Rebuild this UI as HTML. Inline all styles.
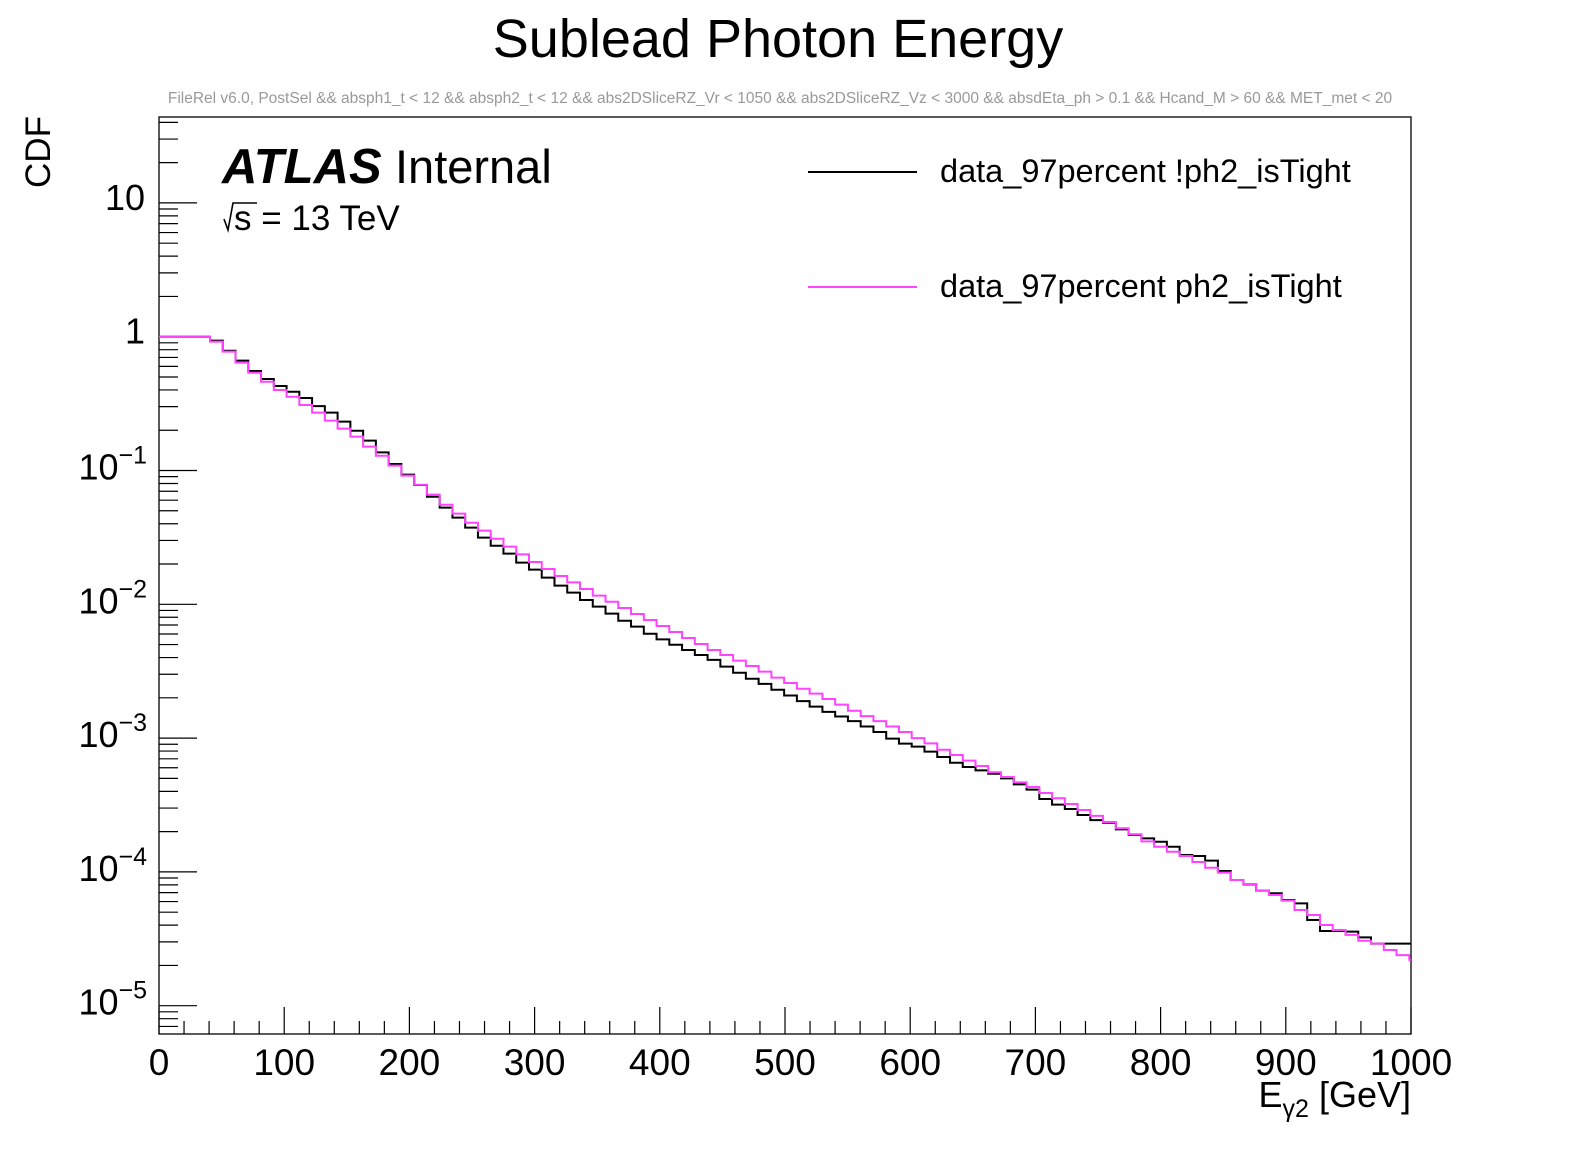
<!DOCTYPE html>
<html><head><meta charset="utf-8"><style>
html,body{margin:0;padding:0;background:#fff;overflow:hidden;}
svg{display:block;font-family:"Liberation Sans",Arial,sans-serif;}
</style></head><body>
<svg id="chart" width="1596" height="1172" viewBox="0 0 1596 1172" xmlns="http://www.w3.org/2000/svg">
<rect width="1596" height="1172" fill="#fff"/>
<text x="778" y="57" font-size="54" text-anchor="middle">Sublead Photon Energy</text>
<text x="780" y="103" font-size="15.5" fill="#999" text-anchor="middle">FileRel v6.0, PostSel &amp;&amp;  absph1_t &lt; 12 &amp;&amp; absph2_t &lt; 12 &amp;&amp; abs2DSliceRZ_Vr &lt; 1050 &amp;&amp; abs2DSliceRZ_Vz &lt; 3000 &amp;&amp; absdEta_ph &gt; 0.1 &amp;&amp; Hcand_M &gt; 60 &amp;&amp; MET_met &lt; 20</text>
<text transform="translate(50,152) rotate(-90)" font-size="35" text-anchor="middle">CDF</text>
<g id="axes"></g>
<g id="series"></g>
<text x="222" y="183" font-size="49" font-weight="bold" font-style="italic">ATLAS</text>
<text x="395" y="183" font-size="47">Internal</text>
<g>
<path d="M224 219 L228 230 L233 203 L257 203" stroke="#000" stroke-width="1.6" fill="none"/>
<text x="234" y="230" font-size="35">s = 13 TeV</text>
</g>
<g>
<line x1="808" y1="172" x2="917" y2="172" stroke="#000" stroke-width="2"/>
<text x="940" y="182" font-size="32.5">data_97percent !ph2_isTight</text>
<line x1="808" y1="287" x2="917" y2="287" stroke="#ff44ff" stroke-width="2"/>
<text x="940" y="297" font-size="32.5">data_97percent ph2_isTight</text>
</g>
<text x="1411" y="1107" font-size="36" text-anchor="end">E<tspan font-size="25" dy="10">γ2</tspan><tspan dy="-10"> [GeV]</tspan></text>
</svg>
<script>
const binWidth = 10.19;
const xTickLabels = ["0","100","200","300","400","500","600","700","800","900","1000"];
const yTickLabels = ["10^-5","10^-4","10^-3","10^-2","10^-1","1","10"];
const cdfNotTight = [1,1,1,1,0.934,0.786,0.662,0.554,0.483,0.428,0.388,0.348,0.303,0.2705,0.2317,0.1984,0.1671,0.1367,0.1118,0.0931,0.0779,0.0637,0.0528,0.0444,0.0374,0.0315,0.0274,0.0239,0.0205,0.01815,0.01581,0.01378,0.01222,0.01077,0.0096,0.00851,0.00754,0.00681,0.00603,0.00547,0.00499,0.00455,0.00418,0.00384,0.00342,0.00308,0.00278,0.00254,0.0023,0.00208,0.00189,0.00172,0.00157,0.00145,0.00134,0.00122,0.00111,0.00099,0.000909,0.000863,0.000792,0.000722,0.000655,0.000608,0.000574,0.000542,0.0005,0.000451,0.000412,0.000351,0.000318,0.000295,0.000266,0.000244,0.000233,0.000208,0.000189,0.000178,0.000168,0.000154,0.0001337,0.0001315,0.0001213,0.0001016,0.000087,0.0000807,0.0000724,0.0000692,0.0000617,0.0000582,0.0000437,0.0000362,0.0000362,0.0000358,0.0000324,0.0000291,0.0000291,0.0000291,0.0000291];
const cdfTight = [1,1,1,1,0.918,0.773,0.64,0.538,0.461,0.3997,0.356,0.309,0.2705,0.2357,0.2054,0.179,0.1507,0.129,0.1087,0.0915,0.0783,0.066,0.0555,0.0476,0.0407,0.0355,0.0309,0.027,0.0236,0.0207,0.01835,0.01627,0.01459,0.01301,0.0116,0.01046,0.00938,0.00846,0.00763,0.00689,0.00621,0.0056,0.00505,0.00455,0.00418,0.00379,0.00346,0.00314,0.00283,0.00258,0.00234,0.00215,0.00196,0.00178,0.0016,0.00146,0.00134,0.00122,0.00111,0.001,0.000914,0.000819,0.000747,0.000678,0.000619,0.000555,0.000512,0.000467,0.000431,0.000389,0.000355,0.000322,0.00029,0.000262,0.000236,0.000212,0.000191,0.000169,0.000154,0.0001416,0.0001315,0.0001186,0.0001075,0.0000987,0.000087,0.0000812,0.0000724,0.0000672,0.000061,0.0000519,0.0000476,0.0000401,0.0000368,0.0000338,0.0000306,0.0000291,0.0000261,0.0000239,0.000022];

const NS = "http://www.w3.org/2000/svg";
const X0 = 159, X1 = 1411, Y0 = 117, Y1 = 1034;
const xMin = 0, xMax = 1000;
const yOne = 336.7, dec = 133.8;
function xs(v){ return X0 + (v - xMin) / (xMax - xMin) * (X1 - X0); }
function ys(v){ return yOne - Math.log10(v) * dec; }
function mk(tag, attrs, parent){
  const e = document.createElementNS(NS, tag);
  for (const k in attrs) e.setAttribute(k, attrs[k]);
  parent.appendChild(e); return e;
}
const axes = document.getElementById('axes');
const frame = mk('rect', {x:X0, y:Y0, width:X1-X0, height:Y1-Y0, fill:'none', stroke:'#000', 'stroke-width':1.3}, axes);


for (let v = 0; v <= 1000; v += 20) {
  const major = v % 100 === 0;
  const t = mk('line', {x1:xs(v), x2:xs(v), y1:Y1, y2:Y1 - (major ? 27 : 13), stroke:'#000', 'stroke-width':1.2}, axes);
  
  
}
xTickLabels.forEach(function(lbl){
  const t = mk('text', {x:xs(parseFloat(lbl)), y:1075, 'font-size':37, 'text-anchor':'middle'}, axes);
  t.textContent = lbl;
  
  
});
const yTop = (yOne - Y0) / dec, yBot = (yOne - Y1) / dec;
for (let e = -6; e <= 2; e++) {
  for (let m = 1; m <= 9; m++) {
    const v = m * Math.pow(10, e);
    const L = Math.log10(v);
    if (L > yTop || L < yBot) continue;
    const t = mk('line', {x1:X0, x2:X0 + (m === 1 ? 38 : 19), y1:ys(v), y2:ys(v), stroke:'#000', 'stroke-width':1.2}, axes);
    
    
  }
}
yTickLabels.forEach(function(lbl){
  let v;
  const t = mk('text', {'font-size':36, 'text-anchor':'end'}, axes);
  if (lbl.indexOf('^') >= 0) {
    const ex = parseInt(lbl.split('^')[1]);
    v = Math.pow(10, ex);
    t.setAttribute('x', 147); t.setAttribute('y', ys(v) + 9);
    const a = mk('tspan', {}, t); a.textContent = '10';
    const b = mk('tspan', {dy:-16, 'font-size':25}, t); b.textContent = '\u2212' + Math.abs(ex);
  } else {
    v = parseFloat(lbl);
    t.setAttribute('x', 145); t.setAttribute('y', ys(v) + 7);
    t.textContent = lbl;
  }
  
  
});
const sg = document.getElementById('series');
function drawHist(vals, color, name){
  let d = '';
  vals.forEach(function(v, i){
    const xa = xs(i * binWidth), xb = Math.min(xs((i + 1) * binWidth), X1);
    if (xa >= X1) return;
    const y = Math.max(Y0, Math.min(Y1, ys(v)));
    d += (i === 0 ? 'M' : 'L') + xa.toFixed(2) + ' ' + y.toFixed(2) + ' L' + xb.toFixed(2) + ' ' + y.toFixed(2) + ' ';
  });
  const p = mk('path', {d:d, fill:'none', stroke:color, 'stroke-width':2}, sg);
  
  
}
drawHist(cdfNotTight, '#000', 'series-not-tight');
drawHist(cdfTight, '#ff44ff', 'series-tight');
</script>
</body></html>
